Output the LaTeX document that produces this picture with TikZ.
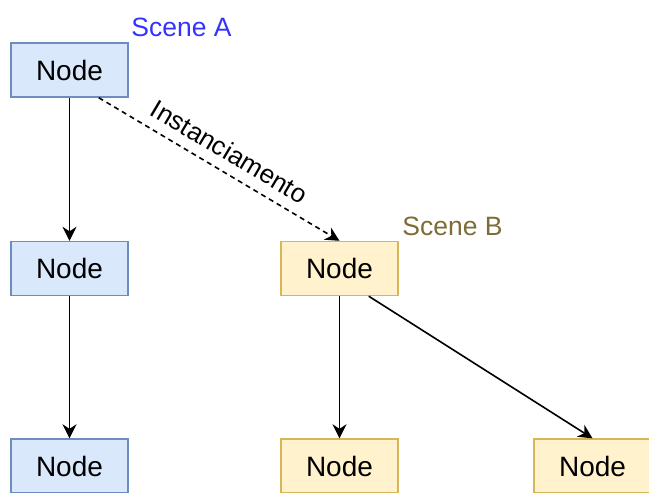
\documentclass[tikz,border=0pt]{standalone}
\usepackage{fontspec}
\setmainfont{Liberation Sans}
\usetikzlibrary{arrows.meta}
\definecolor{blueFill}{HTML}{DAE8FC}
\definecolor{blueLine}{HTML}{6C8EBF}
\definecolor{yellowFill}{HTML}{FFF2CC}
\definecolor{yellowLine}{HTML}{D6B656}
\definecolor{sceneAText}{HTML}{3333FF}
\definecolor{sceneBText}{HTML}{7D6C35}
\tikzset{
  box/.style={draw, line width=1.4pt, minimum width=117pt, minimum height=54pt,
    inner sep=0pt, font=\fontsize{28}{32}\selectfont},
  bluebox/.style={box, fill=blueFill, draw=blueLine},
  yellowbox/.style={box, fill=yellowFill, draw=yellowLine},
  link/.style={line width=1.6pt, -{Stealth[length=14pt,width=14pt,inset=4.5pt]}},
  scenelabel/.style={anchor=base, inner sep=0pt, font=\fontsize{26.5}{30}\selectfont}
}
\begin{document}
\begin{tikzpicture}[x=1pt,y=-1pt]
  \useasboundingbox (0,0) rectangle (649,493);
  % scene A tree
  \node[bluebox] (a1) at (69.5,70) {Node};
  \node[bluebox] (a2) at (69.5,268.5) {Node};
  \node[bluebox] (a3) at (69.5,466) {Node};
  % scene B tree
  \node[yellowbox] (b1) at (339.5,268.5) {Node};
  \node[yellowbox] (b2) at (339.5,466) {Node};
  \node[yellowbox] (b3) at (592.5,466) {Node};
  % scene titles
  \node[scenelabel, text=sceneAText] (ta) at (181.5,36) {Scene A};
  \node[scenelabel, text=sceneBText] (tb) at (452.5,235) {Scene B};
  % edges
  \draw[link] (a1) -- (a2);
  \draw[link] (a2) -- (a3);
  \draw[link] (b1) -- (b2);
  \draw[link] ([xshift=29.25pt]b1.south) -- (b3.north);
  \draw[link, dashed, dash pattern=on 5pt off 4pt] ([xshift=29.25pt]a1.south) -- (b1.north)
    node[midway, sloped, above, inner sep=10pt, font=\fontsize{26}{30}\selectfont] (inst) {Instanciamento};
\end{tikzpicture}
\end{document}
